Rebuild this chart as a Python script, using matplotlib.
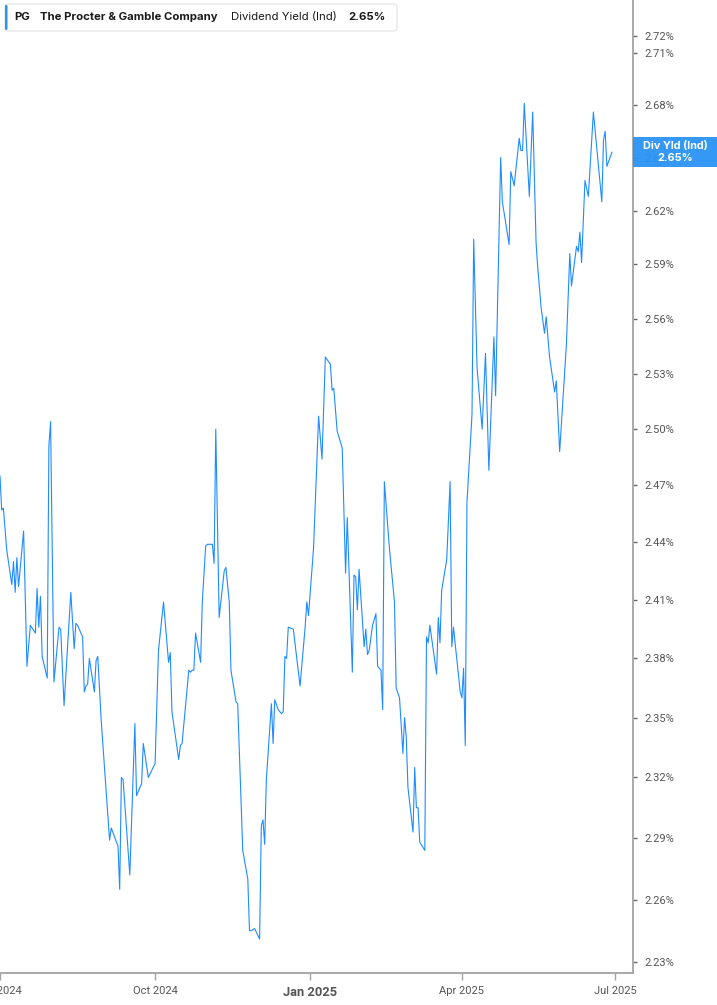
import matplotlib
matplotlib.use("Agg")
import matplotlib.pyplot as plt
import matplotlib.dates as mdates
from matplotlib.patches import FancyBboxPatch, Rectangle
from matplotlib.ticker import FixedLocator, NullLocator
import pandas as pd

# PG dividend yield (indicated)
dates = [
    "2024-07-01", "2024-07-02", "2024-07-03", "2024-07-05", "2024-07-08", "2024-07-09", "2024-07-10", "2024-07-11", "2024-07-12", "2024-07-15",
    "2024-07-17", "2024-07-19", "2024-07-22", "2024-07-23", "2024-07-24", "2024-07-25", "2024-07-26", "2024-07-29", "2024-07-30", "2024-07-31",
    "2024-08-02", "2024-08-05", "2024-08-06", "2024-08-08", "2024-08-12", "2024-08-14", "2024-08-15", "2024-08-16", "2024-08-19", "2024-08-20",
    "2024-08-21", "2024-08-22", "2024-08-23", "2024-08-26", "2024-08-27", "2024-08-28", "2024-08-30", "2024-09-04", "2024-09-05", "2024-09-09",
    "2024-09-10", "2024-09-11", "2024-09-12", "2024-09-16", "2024-09-19", "2024-09-20", "2024-09-23", "2024-09-24", "2024-09-27", "2024-10-01",
    "2024-10-03", "2024-10-06", "2024-10-09", "2024-10-10", "2024-10-11", "2024-10-14", "2024-10-15", "2024-10-16", "2024-10-17", "2024-10-21",
    "2024-10-22", "2024-10-23", "2024-10-24", "2024-10-25", "2024-10-28", "2024-10-29", "2024-10-31", "2024-11-01", "2024-11-04", "2024-11-05",
    "2024-11-06", "2024-11-08", "2024-11-11", "2024-11-12", "2024-11-14", "2024-11-15", "2024-11-18", "2024-11-19", "2024-11-22", "2024-11-25",
    "2024-11-26", "2024-11-27", "2024-11-29", "2024-12-02", "2024-12-03", "2024-12-04", "2024-12-05", "2024-12-06", "2024-12-09", "2024-12-10",
    "2024-12-11", "2024-12-13", "2024-12-15", "2024-12-16", "2024-12-17", "2024-12-18", "2024-12-19", "2024-12-22", "2024-12-26", "2024-12-29",
    "2024-12-30", "2024-12-31", "2025-01-03", "2025-01-06", "2025-01-08", "2025-01-10", "2025-01-13", "2025-01-14", "2025-01-15", "2025-01-17",
    "2025-01-20", "2025-01-22", "2025-01-23", "2025-01-26", "2025-01-27", "2025-01-28", "2025-01-29", "2025-01-30", "2025-02-02", "2025-02-03",
    "2025-02-04", "2025-02-05", "2025-02-07", "2025-02-09", "2025-02-10", "2025-02-12", "2025-02-13", "2025-02-14", "2025-02-17", "2025-02-20",
    "2025-02-21", "2025-02-23", "2025-02-25", "2025-02-26", "2025-02-27", "2025-02-28", "2025-03-03", "2025-03-04", "2025-03-05", "2025-03-06",
    "2025-03-07", "2025-03-10", "2025-03-11", "2025-03-12", "2025-03-13", "2025-03-17", "2025-03-18", "2025-03-19", "2025-03-20", "2025-03-23",
    "2025-03-25", "2025-03-26", "2025-03-27", "2025-03-31", "2025-04-01", "2025-04-02", "2025-04-03", "2025-04-04", "2025-04-07", "2025-04-08",
    "2025-04-10", "2025-04-13", "2025-04-15", "2025-04-17", "2025-04-20", "2025-04-21", "2025-04-24", "2025-04-25", "2025-04-29", "2025-04-30",
    "2025-05-02", "2025-05-05", "2025-05-06", "2025-05-07", "2025-05-08", "2025-05-11", "2025-05-13", "2025-05-15", "2025-05-16", "2025-05-18",
    "2025-05-20", "2025-05-21", "2025-05-23", "2025-05-26", "2025-05-27", "2025-05-29", "2025-06-02", "2025-06-04", "2025-06-05", "2025-06-08",
    "2025-06-09", "2025-06-10", "2025-06-11", "2025-06-13", "2025-06-15", "2025-06-18", "2025-06-23", "2025-06-24", "2025-06-25", "2025-06-26",
    "2025-06-29",
]
div_yield = [
    2.475, 2.457, 2.458, 2.436, 2.418, 2.430, 2.414, 2.432, 2.417, 2.446,
    2.376, 2.397, 2.393, 2.416, 2.396, 2.412, 2.381, 2.370, 2.491, 2.504,
    2.368, 2.396, 2.395, 2.356, 2.414, 2.385, 2.398, 2.397, 2.391, 2.363,
    2.366, 2.367, 2.380, 2.363, 2.379, 2.381, 2.349, 2.289, 2.295, 2.286,
    2.265, 2.320, 2.319, 2.272, 2.347, 2.311, 2.317, 2.337, 2.320, 2.327,
    2.384, 2.409, 2.378, 2.383, 2.353, 2.335, 2.329, 2.336, 2.337, 2.374,
    2.373, 2.374, 2.374, 2.393, 2.378, 2.409, 2.438, 2.439, 2.439, 2.429,
    2.500, 2.401, 2.425, 2.427, 2.409, 2.374, 2.358, 2.357, 2.284, 2.270,
    2.245, 2.245, 2.246, 2.241, 2.296, 2.299, 2.287, 2.319, 2.357, 2.337,
    2.359, 2.354, 2.352, 2.353, 2.381, 2.380, 2.396, 2.395, 2.366, 2.396,
    2.409, 2.402, 2.437, 2.507, 2.484, 2.539, 2.535, 2.521, 2.522, 2.499,
    2.490, 2.424, 2.453, 2.373, 2.423, 2.422, 2.405, 2.426, 2.386, 2.395,
    2.382, 2.384, 2.397, 2.403, 2.376, 2.374, 2.354, 2.472, 2.437, 2.409,
    2.365, 2.360, 2.332, 2.350, 2.340, 2.315, 2.293, 2.325, 2.305, 2.305,
    2.288, 2.284, 2.391, 2.388, 2.397, 2.372, 2.401, 2.388, 2.415, 2.431,
    2.472, 2.386, 2.396, 2.363, 2.360, 2.375, 2.336, 2.461, 2.508, 2.604,
    2.533, 2.500, 2.541, 2.478, 2.550, 2.518, 2.650, 2.625, 2.601, 2.642,
    2.634, 2.661, 2.654, 2.654, 2.681, 2.628, 2.676, 2.602, 2.588, 2.566,
    2.552, 2.561, 2.539, 2.520, 2.526, 2.488, 2.546, 2.596, 2.578, 2.600,
    2.597, 2.608, 2.591, 2.637, 2.628, 2.676, 2.625, 2.660, 2.665, 2.645,
    2.653,
]

y_ticks = [2.23, 2.26, 2.29, 2.32, 2.35, 2.38, 2.41, 2.44, 2.47, 2.50,
           2.53, 2.56, 2.59, 2.62, 2.65, 2.68, 2.71, 2.72]
x_tick_dates = ["2024-07-01", "2024-10-01", "2025-01-01", "2025-04-01", "2025-07-01"]
x_tick_labels = ["Jul 2024", "Oct 2024", "Jan 2025", "Apr 2025", "Jul 2025"]
last_value = div_yield[-1]

BLUE = "#1e8cff"
BOX_BLUE = "#2a93f5"
GREY_TXT = "#555555"
SPINE = "#a3a3a3"

W, H = 717, 1005
fig = plt.figure(figsize=(W / 100, H / 100), dpi=100)
ax = fig.add_axes([0, (H - 973) / H, 633 / W, 973 / H])

x = pd.to_datetime(dates)
ax.plot(x, div_yield, color=BLUE, linewidth=0.8)

ax.set_yscale("log")
ax.set_ylim(2.2247, 2.7411)
ax.set_xlim(pd.Timestamp("2024-07-01"), pd.Timestamp("2025-07-11 12:00"))

# y axis on the right
ax.yaxis.tick_right()
ax.yaxis.set_major_locator(FixedLocator(y_ticks))
ax.yaxis.set_minor_locator(NullLocator())
ax.set_yticklabels([f"{t:.2f}%" for t in y_ticks])
ax.tick_params(axis="y", which="major", length=3, width=1, color="#666666",
               pad=5, labelsize=8, labelcolor=GREY_TXT)

# x axis
ax.xaxis.set_major_locator(FixedLocator(mdates.date2num(pd.to_datetime(x_tick_dates))))
ax.xaxis.set_minor_locator(NullLocator())
ax.set_xticklabels(x_tick_labels)
ax.tick_params(axis="x", length=5, width=1, color=SPINE, pad=4,
               labelsize=8, labelcolor=GREY_TXT)
for lab in ax.get_xticklabels():
    lab.set_fontfamily("Roboto")
    if lab.get_text().startswith("Jan"):
        lab.set_fontweight("bold")
        lab.set_fontsize(9.3)
for lab in ax.get_yticklabels():
    lab.set_fontfamily("Roboto")

for side in ["top", "left"]:
    ax.spines[side].set_visible(False)
for side in ["right", "bottom"]:
    ax.spines[side].set_color(SPINE)
    ax.spines[side].set_linewidth(1.3)

# legend header box (pixel -> inch coordinates)
def px(xp, yp):
    return xp / 100, (H - yp) / 100

tr = fig.dpi_scale_trans
x0, y0 = px(5, 31)
fig.add_artist(FancyBboxPatch((x0, y0), 3.92, 0.27,
                              boxstyle="round,pad=0,rounding_size=0.03",
                              transform=tr, fc="white", ec="#e2e2e2", lw=0.8))
bx, by = px(5, 30)
fig.add_artist(FancyBboxPatch((bx, by), 0.025, 0.25,
                              boxstyle="round,pad=0,rounding_size=0.012",
                              transform=tr, fc=BOX_BLUE, ec="none"))
ty = (H - 16.5) / 100
font = ["Inter", "DejaVu Sans"]
fig.text(0.14, ty, "PG", transform=tr, va="center", ha="left", fontsize=8.2,
         fontweight="bold", color="#1a1a1a", family=font)
fig.text(0.40, ty, "The Procter & Gamble Company", transform=tr, va="center",
         ha="left", fontsize=8.2, fontweight="bold", color="#1a1a1a", family=font)
fig.text(2.31, ty, "Dividend Yield (Ind)", transform=tr, va="center", ha="left",
         fontsize=8.2, color="#1a1a1a", family=font)
fig.text(3.48, ty, f"{last_value:.2f}%", transform=tr, va="center", ha="left",
         fontsize=8.2, fontweight="bold", color="#1a1a1a", family=font)

# last value tag on the right axis
rx, ry = px(633, 167)
fig.add_artist(Rectangle((rx, ry), 0.84, 0.30, transform=tr, fc=BOX_BLUE,
                         ec="none", alpha=0.95))
fig.text(6.75, (H - 146) / 100, "Div Yld (Ind)", transform=tr, ha="center",
         va="center", fontsize=7.8, fontweight="bold", color="white", family=font)
fig.text(6.75, (H - 158) / 100, f"{last_value:.2f}%", transform=tr, ha="center",
         va="center", fontsize=7.8, fontweight="bold", color="white", family=font)

fig.savefig("out.png", dpi=100)
